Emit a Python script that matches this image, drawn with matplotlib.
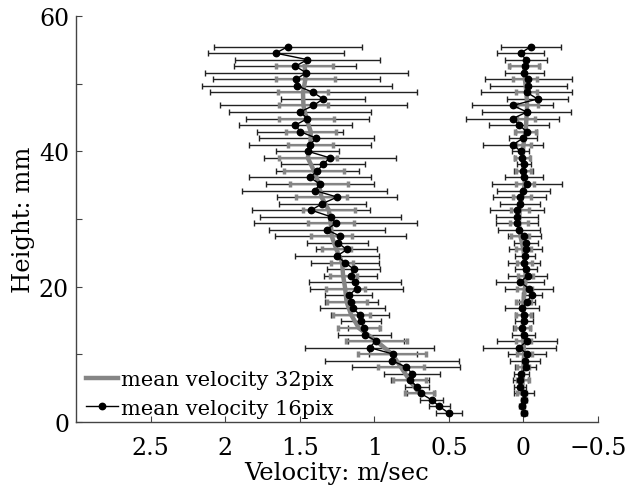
import matplotlib
matplotlib.use("Agg")
import matplotlib.pyplot as plt
from matplotlib.lines import Line2D

# heights of the 16pix vectors (mm), bottom to top
heights = [1.33, 2.30, 3.27, 4.23, 5.20, 6.17, 7.13, 8.10, 9.07, 10.03,
           11.00, 11.97, 12.93, 13.90, 14.87, 15.84, 16.80, 17.77, 18.74, 19.70,
           20.67, 21.64, 22.60, 23.57, 24.54, 25.50, 26.47, 27.44, 28.41, 29.37,
           30.34, 31.31, 32.27, 33.24, 34.21, 35.17, 36.14, 37.11, 38.07, 39.04,
           40.01, 40.98, 41.94, 42.91, 43.88, 44.84, 45.81, 46.78, 47.74, 48.71,
           49.68, 50.65, 51.61, 52.58, 53.55, 54.51, 55.48]

# streamwise component, 16pix
u16 = [0.501, 0.564, 0.615, 0.689, 0.712, 0.761, 0.745, 0.786, 0.880, 0.873,
       1.032, 0.989, 1.065, 1.072, 1.088, 1.095, 1.146, 1.153, 1.171, 1.119,
       1.130, 1.159, 1.137, 1.198, 1.249, 1.184, 1.245, 1.227, 1.318, 1.260,
       1.292, 1.424, 1.348, 1.249, 1.399, 1.363, 1.433, 1.381, 1.345, 1.298,
       1.446, 1.431, 1.388, 1.497, 1.529, 1.448, 1.498, 1.408, 1.343, 1.410,
       1.518, 1.524, 1.457, 1.529, 1.448, 1.661, 1.579]
u16_err = [0.087, 0.070, 0.078, 0.095, 0.080, 0.130, 0.187, 0.361, 0.448, 0.160,
           0.435, 0.190, 0.177, 0.104, 0.132, 0.193, 0.221, 0.179, 0.157, 0.314,
           0.308, 0.178, 0.178, 0.228, 0.280, 0.205, 0.204, 0.442, 0.390, 0.549,
           0.474, 0.398, 0.291, 0.402, 0.487, 0.362, 0.408, 0.280, 0.282, 0.441,
           0.210, 0.407, 0.383, 0.287, 0.380, 0.411, 0.474, 0.624, 0.284, 0.694,
           0.635, 0.560, 0.681, 0.409, 0.484, 0.457, 0.495]

# second component, 16pix
v16 = [-0.005, 0.010, -0.002, -0.004, 0.021, 0.021, 0.014, -0.015, -0.012, -0.026,
       0.028, -0.023, -0.002, 0.008, -0.002, -0.002, 0.008, -0.023, -0.055, -0.039,
       0.021, -0.028, -0.017, -0.004, -0.012, -0.015, -0.019, -0.006, 0.030, 0.042,
       0.044, 0.042, 0.024, 0.026, 0.001, -0.023, -0.004, 0.001, -0.004, 0.008,
       0.019, 0.071, 0.003, -0.021, 0.028, 0.071, -0.023, 0.071, -0.095, -0.023,
       -0.034, -0.034, -0.006, -0.010, -0.017, 0.019, -0.050]
v16_err = [0.020, 0.020, 0.020, 0.070, 0.040, 0.050, 0.050, 0.070, 0.100, 0.127,
           0.245, 0.202, 0.078, 0.060, 0.060, 0.060, 0.115, 0.056, 0.067, 0.162,
           0.162, 0.129, 0.075, 0.109, 0.067, 0.109, 0.080, 0.112, 0.138, 0.142,
           0.139, 0.181, 0.132, 0.179, 0.177, 0.235, 0.127, 0.065, 0.047, 0.054,
           0.059, 0.199, 0.097, 0.069, 0.202, 0.311, 0.299, 0.271, 0.207, 0.306,
           0.258, 0.291, 0.132, 0.100, 0.142, 0.155, 0.202]

# 32pix vectors sit on every second 16pix row
heights32 = heights[3:54:2]
u32 = [0.698, 0.763, 0.821, 0.880, 0.987, 1.104, 1.155, 1.186, 1.195, 1.209,
       1.216, 1.254, 1.285, 1.292, 1.305, 1.354, 1.372, 1.404, 1.446, 1.428,
       1.426, 1.455, 1.475, 1.478, 1.462, 1.466]
u32_err = [0.097, 0.110, 0.153, 0.230, 0.204, 0.140, 0.125, 0.134, 0.131, 0.090,
           0.073, 0.095, 0.137, 0.153, 0.174, 0.168, 0.196, 0.200, 0.193, 0.151,
           0.168, 0.185, 0.165, 0.168, 0.200, 0.190]
v32 = [0.010, 0.005, 0.000, -0.005, 0.000, 0.005, 0.000, 0.000, -0.010, -0.015,
       -0.010, 0.000, 0.020, 0.030, 0.025, 0.010, -0.010, 0.000, 0.005, 0.000,
       -0.015, -0.020, -0.025, -0.020, -0.010, -0.005]
v32_err = [0.030, 0.040, 0.040, 0.050, 0.050, 0.050, 0.050, 0.050, 0.050, 0.050,
           0.050, 0.050, 0.060, 0.060, 0.060, 0.060, 0.060, 0.050, 0.050, 0.050,
           0.070, 0.060, 0.070, 0.070, 0.080, 0.100]

plt.rcParams['font.family'] = ['DejaVu Serif']

fig = plt.figure(figsize=(6.33, 4.89), dpi=100)
ax = fig.add_axes([76 / 633, 1 - 423 / 489, 522 / 633, 406 / 489])

gray = '#858585'
for xs, xe in [(u16, u16_err), (v16, v16_err)]:
    ax.errorbar(xs, heights, xerr=xe, fmt='none', ecolor='#222222',
                elinewidth=1.0, capsize=2.5, capthick=1.0, zorder=1)
for xs, xe in [(u32, u32_err), (v32, v32_err)]:
    ax.errorbar(xs, heights32, xerr=xe, fmt='none', ecolor=gray,
                elinewidth=1.6, capsize=2.5, capthick=2.5, zorder=2)
    ax.plot(xs, heights32, color=gray, lw=3.2, zorder=3)
for xs in [u16, v16]:
    ax.plot(xs, heights, color='black', lw=1.0, marker='o', markersize=4.6,
            zorder=4)

ax.set_xlim(3.0, -0.5)
ax.set_ylim(0, 60)
ax.set_xticks([2.5, 2, 1.5, 1, 0.5, 0, -0.5])
ax.set_xticklabels(['2.5', '2', '1.5', '1', '0.5', '0', '\u22120.5'])
ax.set_yticks([0, 10, 20, 30, 40, 50, 60])
ax.set_yticklabels(['0', '', '20', '', '40', '', '60'])
ax.tick_params(direction='in', length=4, width=0.8, color='#444444',
               labelsize=17, pad=5)
ax.tick_params(axis='x', pad=10)
for s in ['top', 'right']:
    ax.spines[s].set_visible(False)
for s in ['left', 'bottom']:
    ax.spines[s].set_color('#444444')
    ax.spines[s].set_linewidth(1.0)

ax.set_xlabel('Velocity: m/sec', fontsize=17.5, labelpad=1.5)
ax.set_ylabel('Height: mm', fontsize=17.5, labelpad=3)

handles = [Line2D([], [], color=gray, lw=3.2),
           Line2D([], [], color='black', lw=1.0, marker='o', markersize=4.6)]
ax.legend(handles, ['mean velocity 32pix', 'mean velocity 16pix'],
          loc='lower left', bbox_to_anchor=(-0.008, -0.025), frameon=False,
          fontsize=15, handlelength=1.5, handletextpad=0.15,
          labelspacing=0.45, borderaxespad=0.3)

fig.savefig('out.png', dpi=100)
